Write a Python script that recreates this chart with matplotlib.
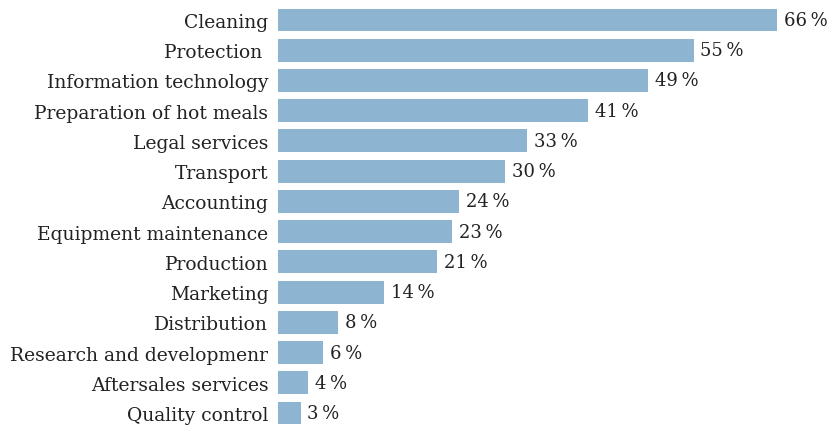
import matplotlib
matplotlib.use("Agg")
import matplotlib.pyplot as plt

categories = ["Cleaning", "Protection ", "Information technology", "Preparation of hot meals",
              "Legal services", "Transport", "Accounting", "Equipment maintenance",
              "Production", "Marketing", "Distribution", "Research and developmenr",
              "Aftersales services", "Quality control"]
values = [66, 55, 49, 41, 33, 30, 24, 23, 21, 14, 8, 6, 4, 3]

plt.rcParams['font.family'] = ['DejaVu Serif']

fig = plt.figure(figsize=(8.32, 4.27), dpi=100)
ax = fig.add_axes([278/832, 0, 1 - 278/832, 1])

pos = list(range(len(categories)))
ax.barh(pos, values, height=0.76, color='#8db4d0', edgecolor='none')
for i, v in enumerate(values):
    ax.text(v + 0.9, i, f"{v}\u2009%", va='center', ha='left', fontsize=13, color='#222222')

ax.set_yticks(pos)
ax.set_yticklabels(categories, fontsize=13.5, color='#222222')
ax.tick_params(axis='y', length=0, pad=7)
ax.set_xticks([])
ax.set_xlim(0, 73.3)
ax.set_ylim(13.43, -0.695)
for s in ax.spines.values():
    s.set_visible(False)

fig.savefig("out.png", dpi=100)
